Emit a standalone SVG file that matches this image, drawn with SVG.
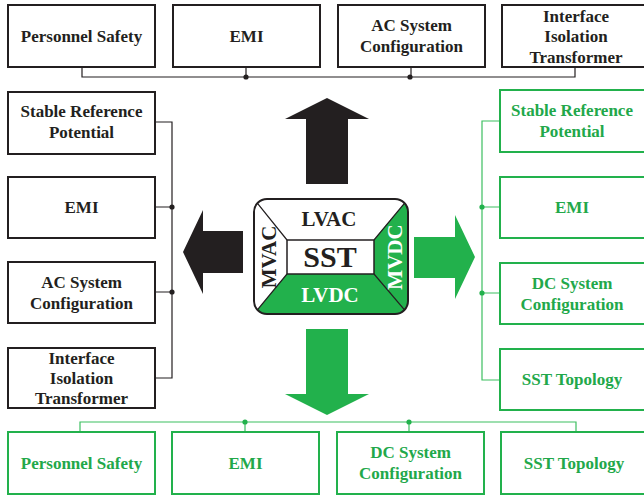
<svg xmlns="http://www.w3.org/2000/svg" width="644" height="497" viewBox="0 0 644 497">
<style>
.bk rect{fill:#fff;stroke:#231f20;stroke-width:2}
.gn rect{fill:#fff;stroke:#22b14c;stroke-width:2}
text{font-family:"Liberation Serif","Times New Roman",serif;font-weight:bold;text-anchor:middle}
.bk text{font-size:17px;fill:#231f20}
.gn text{font-size:17px;fill:#22a84a}
.cb{stroke:#231f20;stroke-width:1.2;fill:none}
.cg{stroke:#3cbf60;stroke-width:1.2;fill:none}
.db{fill:#231f20}
.dg{fill:#22b14c}
</style>
<defs>
<clipPath id="sstclip"><rect x="254" y="199" width="154" height="115" rx="13"/></clipPath>
</defs>
<g id="connectors">
<path class="cb" d="M82,67V77H575V67M246,67V77M411,67V77"/>
<circle class="db" cx="246" cy="77" r="2.6"/><circle class="db" cx="410" cy="77" r="2.6"/>
<path class="cb" d="M155,122H172V378H155M155,207H172M155,292H172"/>
<circle class="db" cx="172" cy="207" r="2.6"/><circle class="db" cx="172" cy="292" r="2.6"/>
<path class="cg" d="M500,121H482V380H500M500,207H482M500,293H482"/>
<circle class="dg" cx="482" cy="207" r="2.6"/><circle class="dg" cx="482" cy="293" r="2.6"/>
<path class="cg" d="M80,432V422H576V432M245,432V422M409,432V422"/>
<circle class="dg" cx="245" cy="422" r="2.6"/><circle class="dg" cx="409" cy="422" r="2.6"/>
</g>
<g id="arrows">
<polygon fill="#231f20" points="327,98 369,119 348,119 348,184 306,184 306,119 285,119"/>
<polygon fill="#231f20" points="183,252 203,210 203,231 243,231 243,273 203,273 203,294"/>
<polygon fill="#22b14c" points="475,257 455,215 455,237 414,237 414,278 455,278 455,299"/>
<polygon fill="#22b14c" points="327,415 369,394 348,394 348,329 306,329 306,394 285,394"/>
</g>
<g id="top1" class="bk"><rect x="8" y="5" width="147" height="62"/><text x="81.5" y="42">Personnel Safety</text></g>
<g id="top2" class="bk"><rect x="173" y="5" width="147" height="62"/><text x="246.5" y="42">EMI</text></g>
<g id="top3" class="bk"><rect x="338" y="5" width="147" height="62"/><text x="411.5" y="31">AC System</text><text x="411.5" y="52">Configuration</text></g>
<g id="top4" class="bk"><rect x="502" y="5" width="147" height="62"/><text x="576" y="21.5">Interface</text><text x="576" y="42">Isolation</text><text x="576" y="62.5">Transformer</text></g>
<g id="left1" class="bk"><rect x="8" y="92" width="147" height="62"/><text x="81.5" y="117">Stable Reference</text><text x="81.5" y="138">Potential</text></g>
<g id="left2" class="bk"><rect x="8" y="177" width="147" height="61"/><text x="81.5" y="213">EMI</text></g>
<g id="left3" class="bk"><rect x="8" y="262" width="147" height="61"/><text x="81.5" y="288">AC System</text><text x="81.5" y="309">Configuration</text></g>
<g id="left4" class="bk"><rect x="8" y="348" width="147" height="60"/><text x="81.5" y="363.5">Interface</text><text x="81.5" y="384">Isolation</text><text x="81.5" y="404">Transformer</text></g>
<g id="right1" class="gn"><rect x="500" y="90" width="147" height="62"/><text x="572" y="116">Stable Reference</text><text x="572" y="137">Potential</text></g>
<g id="right2" class="gn"><rect x="500" y="177" width="147" height="61"/><text x="572" y="213">EMI</text></g>
<g id="right3" class="gn"><rect x="500" y="263" width="147" height="61"/><text x="572" y="289">DC System</text><text x="572" y="310">Configuration</text></g>
<g id="right4" class="gn"><rect x="500" y="349" width="147" height="61"/><text x="572" y="385">SST Topology</text></g>
<g id="bot1" class="gn"><rect x="8" y="432" width="147" height="62"/><text x="81.5" y="469">Personnel Safety</text></g>
<g id="bot2" class="gn"><rect x="172" y="432" width="147" height="62"/><text x="245.5" y="469">EMI</text></g>
<g id="bot3" class="gn"><rect x="337" y="432" width="147" height="62"/><text x="410.5" y="458">DC System</text><text x="410.5" y="479">Configuration</text></g>
<g id="bot4" class="gn"><rect x="501" y="432" width="147" height="62"/><text x="574" y="469">SST Topology</text></g>
<g id="sst">
<rect x="254" y="199" width="154" height="115" rx="13" fill="#fff"/>
<g clip-path="url(#sstclip)">
<polygon fill="#22b14c" points="254,314 408,314 374,274 287,274"/>
<polygon fill="#22b14c" points="408,199 408,314 374,274 374,240"/>
<path d="M254,199L287,240M408,199L374,240M254,314L287,274M408,314L374,274" stroke="#231f20" stroke-width="1.2"/>
</g>
<rect x="287" y="240" width="87" height="34" fill="#fff" stroke="#231f20" stroke-width="1.5"/>
<rect x="254" y="199" width="154" height="115" rx="13" fill="none" stroke="#231f20" stroke-width="2"/>
<text x="329" y="226" font-size="21" fill="#231f20">LVAC</text>
<text x="330" y="267" font-size="30" fill="#231f20">SST</text>
<text x="330" y="302" font-size="21" fill="#fff">LVDC</text>
<text x="0" y="0" font-size="21" fill="#231f20" transform="translate(276,257) rotate(-90)">MVAC</text>
<text x="0" y="0" font-size="21" fill="#fff" transform="translate(402,257) rotate(-90)">MVDC</text>
</g>
</svg>
